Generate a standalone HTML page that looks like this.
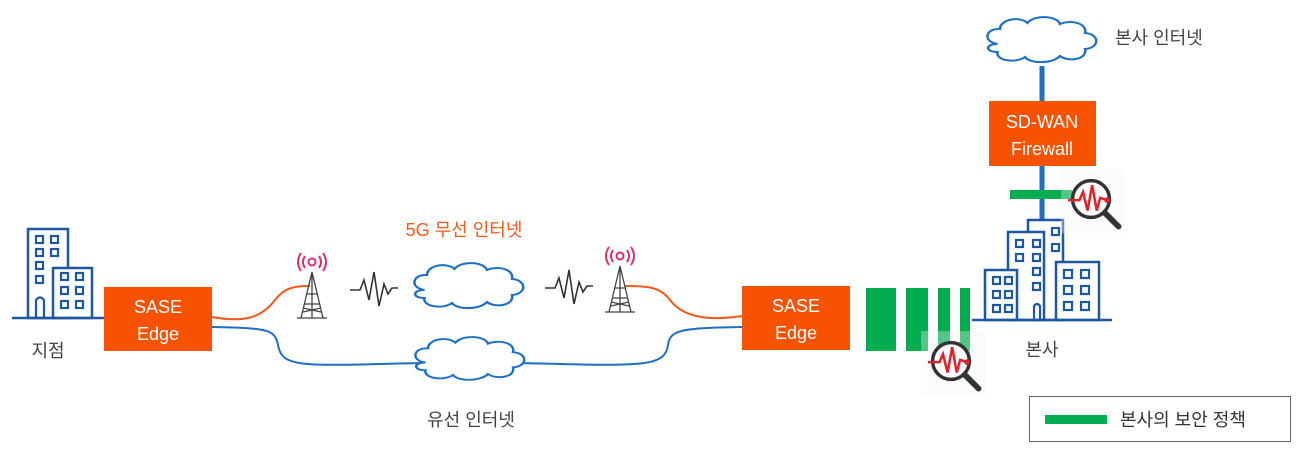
<!DOCTYPE html>
<html><head><meta charset="utf-8"><style>
body{margin:0;background:#fff}
svg{display:block}
text{font-family:"Liberation Sans","Noto Sans CJK KR",sans-serif}
</style></head><body>
<svg width="1297" height="453" viewBox="0 0 1297 453">
<defs>
<g id="cloud"><path d="M10,28 C-2,26 0,12 12,13 C12,3 28,0 34,7 C40,-2 58,0 60,8 C70,3 82,8 80,17 C92,18 92,32 80,33 C82,44 66,46 60,40 C54,48 36,48 32,41 C24,48 8,44 10,36 C0,36 0,28 10,28 Z" fill="#fff" stroke="#1f6fc3" stroke-width="2"/></g>
<g id="tower" stroke="#444" stroke-width="1.3" fill="none">
<path d="M15,0 L4,46 M15,0 L26,46 M15,0 L15,46 M7,32 L23,32 M9,22 L21,22 M6,36 L24,40 M24,36 L6,40 M0,46 L30,46"/>
<circle cx="15" cy="-10" r="3.5" stroke="#d6336c" stroke-width="2"/>
<path d="M8,-16 Q4,-10 8,-4 M22,-16 Q26,-10 22,-4 M4,-19 Q-2,-10 4,-1 M26,-19 Q32,-10 26,-1" stroke="#d6336c" stroke-width="2"/>
</g>
<g id="wave"><path d="M0,20 L10,20 L14,10 L19,30 L24,2 L29,36 L34,14 L38,24 L42,18 L48,18" fill="none" stroke="#333" stroke-width="1.6"/></g>
<g id="mag"><rect x="-6" y="-6" width="56" height="56" fill="#f4f4f4" opacity="0.35"/>
<circle cx="20" cy="20" r="16" fill="#fff" stroke="#333" stroke-width="3"/>
<line x1="32" y1="32" x2="44" y2="44" stroke="#333" stroke-width="5" stroke-linecap="round"/>
<path d="M0,21 L10,21 L13,14 L17,30 L21,8 L25,30 L28,19 L34,21" fill="none" stroke="#e0232b" stroke-width="2.2"/>
<circle cx="34" cy="21" r="2.5" fill="#e0232b"/></g>
</defs>
<!-- left building -->
<g fill="none" stroke="#1f56a0" stroke-width="2.5">
<rect x="28" y="229" width="40" height="89"/><rect x="53" y="268" width="39" height="50" fill="#fff"/>
<line x1="12" y1="318" x2="105" y2="318"/>
<g stroke-width="2.2">
<rect x="36" y="236" width="7" height="7"/><rect x="51" y="236" width="7" height="7"/>
<rect x="36" y="249" width="7" height="7"/><rect x="51" y="249" width="7" height="7"/>
<rect x="36" y="262" width="7" height="7"/>
<rect x="36" y="276" width="7" height="7"/><path d="M36,318 L36,300 Q40,295 44,300 L44,318"/>
<rect x="61" y="273" width="7" height="7"/><rect x="76" y="273" width="7" height="7"/>
<rect x="61" y="287" width="7" height="7"/><rect x="76" y="287" width="7" height="7"/>
<rect x="61" y="301" width="7" height="7"/><rect x="76" y="301" width="7" height="7"/>
</g></g>
<text x="48" y="357" font-size="18" fill="#444" text-anchor="middle">지점</text>
<!-- lines -->
<path d="M212,317 C240,322 260,320 275,300 C285,287 295,286 310,286" fill="none" stroke="#f05a1a" stroke-width="2"/>
<path d="M212,327 C270,328 275,330 278,345 C282,368 300,366 420,363" fill="none" stroke="#1f6fc3" stroke-width="2"/>
<path d="M520,363 C640,366 665,368 668,345 C670,330 680,328 742,327" fill="none" stroke="#1f6fc3" stroke-width="2"/>
<path d="M625,286 C645,286 660,286 670,300 C685,320 715,320 742,316" fill="none" stroke="#f05a1a" stroke-width="2"/>
<use href="#tower" x="297" y="272"/>
<use href="#tower" x="605" y="266"/>
<use href="#wave" x="350" y="270"/>
<use href="#wave" x="545" y="268"/>
<use href="#cloud" x="412" y="262" transform="translate(412,262) scale(1.25,1.0) translate(-412,-262)"/>
<use href="#cloud" x="413" y="336" transform="translate(413,336) scale(1.25,0.95) translate(-413,-336)"/>
<text x="464" y="236" font-size="18" fill="#f05a1a" text-anchor="middle">5G 무선 인터넷</text>
<text x="471" y="426" font-size="18" fill="#444" text-anchor="middle">유선 인터넷</text>
<!-- SASE boxes -->
<rect x="104" y="287" width="108" height="64" fill="#f75200"/>
<text x="158" y="313" font-size="18" fill="#fff" text-anchor="middle">SASE</text>
<text x="158" y="340" font-size="18" fill="#fff" text-anchor="middle">Edge</text>
<rect x="742" y="286" width="108" height="64" fill="#f75200"/>
<text x="796" y="312" font-size="18" fill="#fff" text-anchor="middle">SASE</text>
<text x="796" y="339" font-size="18" fill="#fff" text-anchor="middle">Edge</text>
<!-- green bars -->
<g fill="#00ad4e"><rect x="866" y="288" width="30" height="63"/><rect x="906" y="288" width="22" height="63"/><rect x="938" y="288" width="12" height="63"/><rect x="960" y="288" width="10" height="63"/></g>
<use href="#mag" transform="translate(928,338) scale(1.15)"/>
<!-- HQ -->
<use href="#cloud" x="985" y="16" transform="translate(985,16) scale(1.25,1.0) translate(-985,-16)"/>
<text x="1115" y="44" font-size="18" fill="#444">본사 인터넷</text>
<line x1="1042" y1="66" x2="1042" y2="250" stroke="#1f6fc3" stroke-width="5"/>
<rect x="989" y="101" width="107" height="65" fill="#f75200"/>
<text x="1042" y="128" font-size="18" fill="#fff" text-anchor="middle">SD-WAN</text>
<text x="1042" y="155" font-size="18" fill="#fff" text-anchor="middle">Firewall</text>
<rect x="1010" y="190" width="62" height="9" fill="#00ad4e"/>
<g fill="none" stroke="#1f56a0" stroke-width="2.5">
<rect x="1028" y="220" width="35" height="100" fill="#fff"/>
<rect x="1008" y="232" width="36" height="88" fill="#fff"/>
<rect x="985" y="270" width="32" height="50" fill="#fff"/>
<rect x="1056" y="262" width="43" height="58" fill="#fff"/>
<line x1="972" y1="320" x2="1112" y2="320"/>
<g stroke-width="2.2">
<rect x="1016" y="240" width="7" height="7"/><rect x="1016" y="254" width="7" height="7"/>
<rect x="1033" y="240" width="7" height="7"/><rect x="1033" y="254" width="7" height="7"/><rect x="1033" y="268" width="7" height="7"/><rect x="1033" y="283" width="7" height="7"/>
<rect x="1052" y="228" width="7" height="7"/><rect x="1052" y="244" width="7" height="7"/>
<rect x="993" y="277" width="7" height="7"/><rect x="1005" y="277" width="7" height="7"/>
<rect x="993" y="291" width="7" height="7"/><rect x="1005" y="291" width="7" height="7"/>
<rect x="993" y="305" width="7" height="7"/><rect x="1005" y="305" width="7" height="7"/>
<rect x="1064" y="270" width="8" height="8"/><rect x="1081" y="270" width="8" height="8"/>
<rect x="1064" y="286" width="8" height="8"/><rect x="1081" y="286" width="8" height="8"/>
<rect x="1064" y="302" width="8" height="8"/><rect x="1081" y="302" width="8" height="8"/>
<path d="M1034,320 L1034,306 Q1037,302 1040,306 L1040,320"/>
</g></g>
<use href="#mag" transform="translate(1068,176) scale(1.15)"/>
<text x="1042" y="356" font-size="18" fill="#444" text-anchor="middle">본사</text>
<!-- legend -->
<rect x="1029.5" y="396.5" width="261" height="45" fill="#fff" stroke="#666" stroke-width="1"/>
<rect x="1045" y="415" width="62" height="9" fill="#00ad4e"/>
<text x="1120" y="426" font-size="18" fill="#333">본사의 보안 정책</text>
</svg>
</body></html>
